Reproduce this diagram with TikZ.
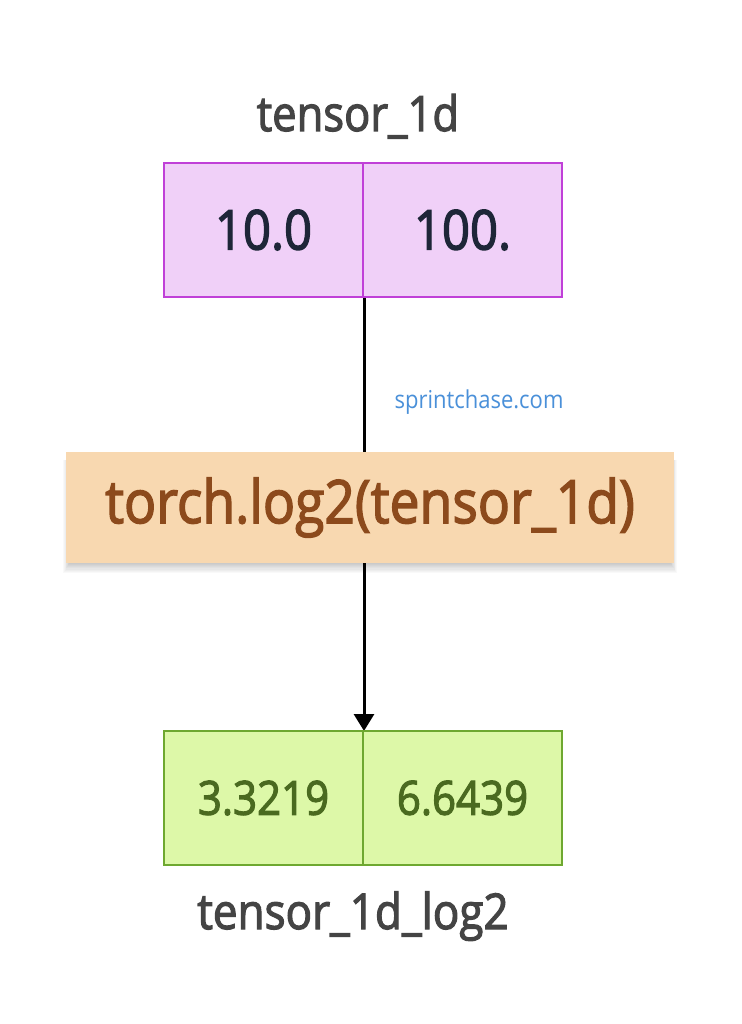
\documentclass[tikz,border=0pt]{standalone}
\usepackage{fontspec}
\usepackage{graphicx}
\setmainfont{Open Sans}
\newfontfamily\semib{Open Sans}[FakeBold=2.5]
\usetikzlibrary{arrows.meta,backgrounds}
\definecolor{tfill}{HTML}{F0D0F8}
\definecolor{tborder}{HTML}{C040D8}
\definecolor{tnum}{HTML}{1E2638}
\definecolor{mfill}{HTML}{F8D8B0}
\definecolor{mtext}{HTML}{8C4A1C}
\definecolor{bfill}{HTML}{DDF8A8}
\definecolor{bborder}{HTML}{6EA830}
\definecolor{bnum}{HTML}{4A6A20}
\definecolor{lab}{HTML}{444444}
\definecolor{wm}{HTML}{4A90D9}
\newcommand{\vs}[1]{\scalebox{1}[1.12]{#1}}
\begin{document}
\begin{tikzpicture}[x=1pt,y=-1pt,
  cell/.style={draw, line width=2.5pt, minimum width=199pt, minimum height=134pt, inner sep=0pt, outer sep=0pt, anchor=north west},
  topcell/.style={cell, draw=tborder, fill=tfill, text=tnum, font=\semib\fontsize{49}{51}\selectfont},
  botcell/.style={cell, draw=bborder, fill=bfill, text=bnum, font=\semib\fontsize{42}{44}\selectfont},
  label/.style={anchor=base, text=lab, font=\semib\fontsize{43.5}{45}\selectfont},
  func/.style={draw=none, fill=mfill, text=mtext, minimum width=608pt, minimum height=111pt, inner sep=0pt, outer sep=0pt,
    anchor=north west, font=\semib\fontsize{53.4}{55}\selectfont},
  arr/.style={line width=3pt, black, -{Triangle[length=17pt,width=20pt]}}]
\node[label] (t1) at (358,131) {\vs{tensor\_1d}};
\node[topcell] (a1) at (164,163) {\vs{10.0}};
\node[topcell] (a2) at (a1.north east) {\vs{100.}};
\node[func] (f) at (66,452) {\vs{torch.log2(tensor\_1d)}};
\node[botcell] (b1) at (164,731) {\vs{3.3219}};
\node[botcell] (b2) at (b1.north east) {\vs{6.6439}};
\node[label, font=\semib\fontsize{44}{46}\selectfont] (t2) at (353,929) {\vs{tensor\_1d\_log2}};
\node[anchor=base, text=wm, font=\fontsize{22}{24}\selectfont] (w) at (479,408) {\vs{sprintchase.com}};
\begin{scope}[on background layer]
\fill[white] (0,0) rectangle (741,1024);
\foreach \i in {0,...,8} {
  \fill[black, opacity=0.025] ([xshift=3pt-\i*0.7pt, yshift=-8pt]f.north west) rectangle ([xshift=-3pt+\i*0.7pt, yshift=-1pt-\i*1.1pt]f.south east);
}
\draw[arr] ([xshift=1pt]a1.south east) -- ([xshift=1pt]b1.north east);
\end{scope}
\end{tikzpicture}
\end{document}
